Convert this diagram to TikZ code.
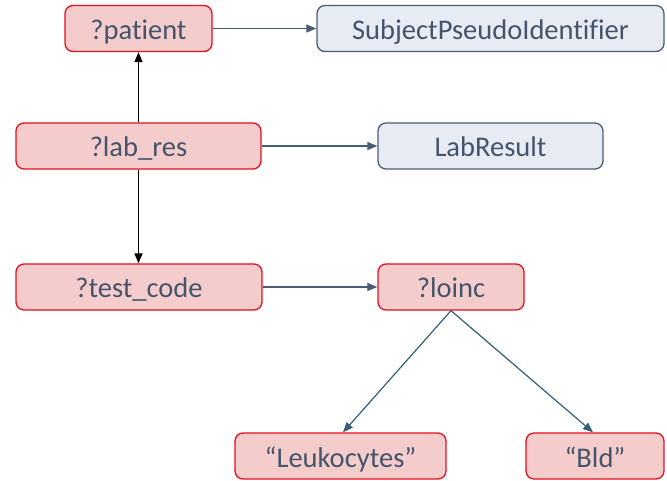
\documentclass[tikz,border=0pt]{standalone}
\usepackage{fontspec}
\setmainfont{Carlito}[Ligatures=NoCommon]
\usetikzlibrary{arrows.meta}
\definecolor{varfill}{HTML}{F4CCCC}
\definecolor{varline}{HTML}{E3101E}
\definecolor{clsfill}{HTML}{E7ECF4}
\definecolor{clsline}{HTML}{4B5B73}
\definecolor{txt}{HTML}{44546A}
\definecolor{edgeblue}{HTML}{4A5B76}
\definecolor{edgeteal}{HTML}{335F78}
\begin{document}
\begin{tikzpicture}[x=1pt,y=-1pt,
  box/.style={rounded corners=8pt,line width=1.3pt,minimum height=46pt,
    inner sep=0pt,text height=22pt,text depth=0pt,text=txt,
    font=\fontsize{28.5}{30}\selectfont},
  var/.style={box,fill=varfill,draw=varline},
  cls/.style={box,fill=clsfill,draw=clsline},
  rel/.style={draw=edgeblue,line width=1.2pt,-{Triangle[length=10pt,width=8pt]}},
  sub/.style={draw=black,line width=1.3pt,-{Triangle[length=10pt,width=8pt]}},
  val/.style={draw=edgeteal,line width=1.2pt,-{Triangle[length=10pt,width=8pt]}}]
\useasboundingbox (0,0) rectangle (667,481);
\node[var,minimum width=147pt] (patient) at (138.5,28.5) {?patient};
\node[cls,minimum width=347pt] (spid) at (490.5,28.5) {SubjectPseudoIdentifier};
\node[var,minimum width=245pt] (labres) at (138.5,146) {?lab\_res};
\node[cls,minimum width=225pt] (labresult) at (490.5,146) {LabResult};
\node[var,minimum width=246pt] (testcode) at (139,287) {?test\_code};
\node[var,minimum width=146pt] (loinc) at (451,287) {?loinc};
\node[var,minimum width=211pt] (leuko) at (340.5,456) {“Leukocytes”};
\node[var,minimum width=138pt] (bld) at (595,456) {“Bld”};
% predicate links
\draw[rel] (patient) -- (spid);
\draw[rel] (labres) -- (labresult);
\draw[rel] (testcode) -- (loinc);
% joins between variables
\draw[sub] (labres.north) -- (patient.south);
\draw[sub] (labres.south) -- (testcode.north -| labres.south);
% literal values
\draw[val] (loinc.south) -- ([xshift=2.5pt]leuko.north);
\draw[val] (loinc.south) -- ([xshift=-2pt]bld.north);
\end{tikzpicture}
\end{document}
